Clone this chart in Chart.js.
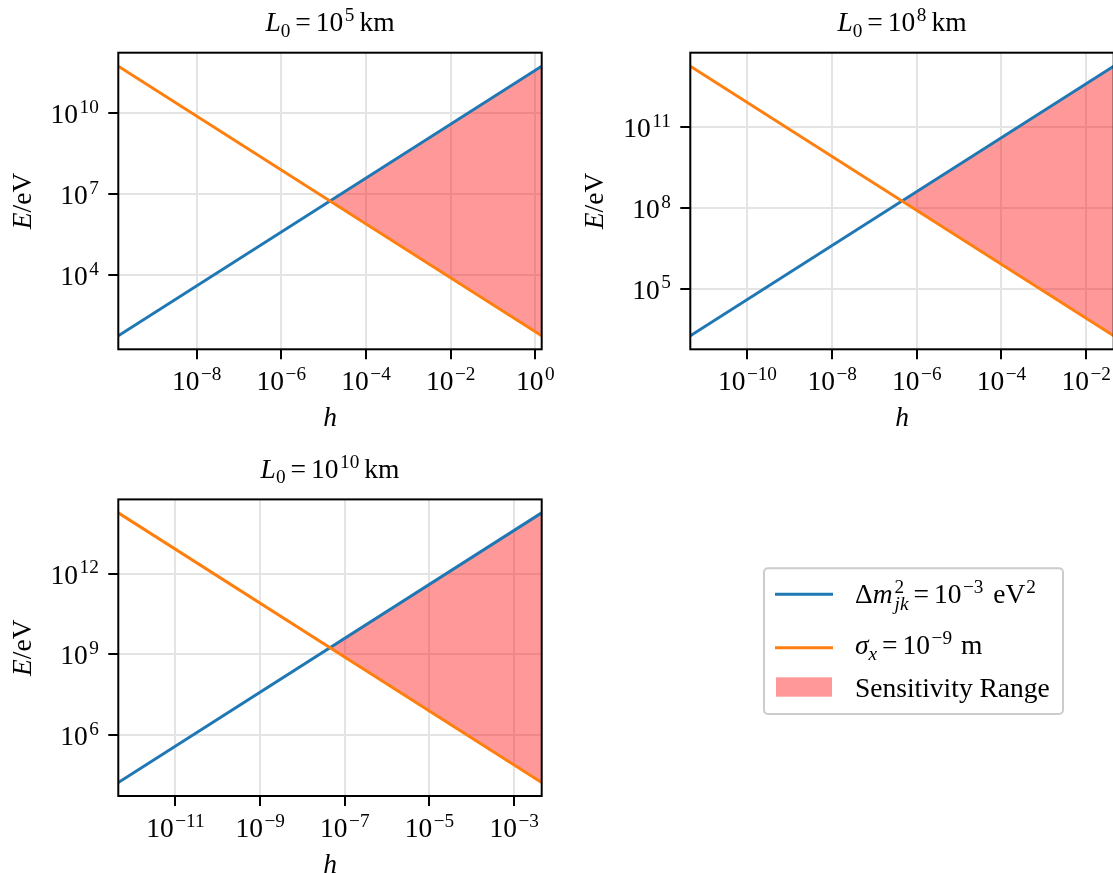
<!DOCTYPE html>
<html>
<head>
<meta charset="utf-8">
<script src="https://cdn.jsdelivr.net/npm/chart.js@4.4.1/dist/chart.umd.min.js"></script>
<style>
html,body{margin:0;padding:0;background:#fff;overflow:hidden;width:1113px;height:873px}
canvas{position:absolute;left:0;top:0}
</style>
</head>
<body>
<canvas id="p1" width="1200" height="873"></canvas>
<canvas id="p2" width="1200" height="873"></canvas>
<canvas id="p3" width="1200" height="873"></canvas>
<script>
// L0 = 1e5 km
const h1 = [1.41e-10, 1.41];
const dm1 = [56.2, 5.62e11];      // delta m^2 curve (blue)
const sig1 = [5.62e11, 56.2];     // sigma_x curve (orange)
const xTicks1 = [1e-8, 1e-6, 1e-4, 1e-2, 1e0];
const yTicks1 = [1e4, 1e7, 1e10];

// L0 = 1e8 km
const h2 = [4.47e-12, 4.47e-2];
const dm2 = [1.78e3, 1.78e13];
const sig2 = [1.78e13, 1.78e3];
const xTicks2 = [1e-10, 1e-8, 1e-6, 1e-4, 1e-2];
const yTicks2 = [1e5, 1e8, 1e11];

// L0 = 1e10 km
const h3 = [4.47e-13, 4.47e-3];
const dm3 = [1.78e4, 1.78e14];
const sig3 = [1.78e14, 1.78e4];
const xTicks3 = [1e-11, 1e-9, 1e-7, 1e-5, 1e-3];
const yTicks3 = [1e6, 1e9, 1e12];

const FONT = '"Liberation Serif","Times New Roman",serif';
const F = 27.5;
const BLUE = "#1f77b4", ORANGE = "#ff7f0e", FILL = "rgba(255,0,0,0.4)", GRID = "#e4e4e4";

function fnt(s){ return (s.it ? "italic " : "") + (s.sz || F) + "px " + FONT; }

// draws a row of text pieces (super/subscripts etc.)
function rich(ctx, segs, x, y, align){
  let w = 0;
  segs.forEach(s=>{
    if(s.gap !== undefined) s.w = s.gap;
    else if(s.stack){
      s.w = Math.max(...s.stack.map(q=>{ ctx.font = fnt(q); return ctx.measureText(q.t).width; }));
    } else { ctx.font = fnt(s); s.w = ctx.measureText(s.t).width; }
    w += s.w;
  });
  let cx = align==="center" ? x - w/2 : align==="right" ? x - w : x;
  ctx.textAlign = "left"; ctx.textBaseline = "alphabetic"; ctx.fillStyle = "#000";
  segs.forEach(s=>{
    if(s.stack) s.stack.forEach(q=>{ ctx.font = fnt(q); ctx.fillText(q.t, cx, y + (q.dy||0)); });
    else if(s.t){ ctx.font = fnt(s); ctx.fillText(s.t, cx, y + (s.dy||0)); }
    cx += s.w;
  });
}
const N = t=>({t});
const I = t=>({t, it:true});
const G = g=>({gap:g});
const SUP = (t,it)=>({t, it, sz:F*0.7, dy:-F*0.37});
const SUB = (t,it,d)=>({t, it, sz:F*0.7, dy:d||F*0.2});

function pow10(v){
  const e = Math.round(Math.log10(v));
  return [N("10"), G(1.5), SUP(String(e).replace("-", "\u2212"))];
}

function drawLegend(ctx){
  ctx.save();
  ctx.beginPath();
  ctx.roundRect(764, 568.3, 299, 145.7, 4);
  ctx.fillStyle = "rgba(255,255,255,0.8)";
  ctx.fill();
  ctx.strokeStyle = "#cccccc"; ctx.lineWidth = 2;
  ctx.stroke();
  ctx.lineWidth = 3;
  ctx.strokeStyle = BLUE;
  ctx.beginPath(); ctx.moveTo(775, 594.3); ctx.lineTo(833, 594.3); ctx.stroke();
  ctx.strokeStyle = ORANGE;
  ctx.beginPath(); ctx.moveTo(775, 647.7); ctx.lineTo(833, 647.7); ctx.stroke();
  ctx.fillStyle = FILL;
  ctx.fillRect(776, 677.3, 56, 19.4);
  rich(ctx, [N("\u0394"), I("m"), G(2), {stack:[SUP("2"), SUB("jk", true, F*0.27)]}, G(5), N("="), G(5),
             N("10"), G(1.5), SUP("\u22123"), G(3), N(" eV"), G(1), SUP("2")], 855, 603, "left");
  rich(ctx, [I("\u03c3"), SUB("x", true), G(5), N("="), G(5), N("10"), G(1.5), SUP("\u22129"), G(2), N(" m")], 855, 654, "left");
  rich(ctx, [N("Sensitivity Range")], 855, 697, "left");
  ctx.restore();
}

function panel(id, hs, dm, sig, xt, yt, box, l0exp, legend){
  const lo = Math.log10(Math.min(...dm, ...sig)), hi = Math.log10(Math.max(...dm, ...sig));
  const m = (hi - lo) * 0.05;
  const gridOpts = {color:GRID, lineWidth:2, tickLength:10, tickColor:"#000", tickWidth:2};
  new Chart(document.getElementById(id), {
    type: "line",
    data: {datasets: [
      {label:"dm", data: hs.map((x,i)=>({x, y:dm[i]})), borderColor:BLUE, borderWidth:3, pointRadius:0, order:1,
       fill:{target:1, above:FILL, below:"rgba(0,0,0,0)"}},
      {label:"sig", data: hs.map((x,i)=>({x, y:sig[i]})), borderColor:ORANGE, borderWidth:3, pointRadius:0, order:0, fill:false}
    ]},
    options: {
      responsive:false, animation:false, events:[],
      layout:{padding:{left:box.l, top:box.t, right:1200-box.r, bottom:873-box.b}},
      plugins:{legend:{display:false}, tooltip:{enabled:false}},
      scales:{
        x:{type:"logarithmic", min:hs[0], max:hs[hs.length-1],
           afterBuildTicks:s=>{ s.ticks = xt.map(v=>({value:v})); },
           afterFit:s=>{ s.height = 0; },
           ticks:{display:false}, grid:gridOpts, border:{display:false}},
        y:{type:"logarithmic", min:Math.pow(10, lo-m), max:Math.pow(10, hi+m),
           afterBuildTicks:s=>{ s.ticks = yt.map(v=>({value:v})); },
           afterFit:s=>{ s.width = 0; },
           ticks:{display:false}, grid:gridOpts, border:{display:false}}
      }
    },
    plugins:[{
      id:"deco",
      afterDraw(chart){
        const ctx = chart.ctx, a = chart.chartArea;
        ctx.save();
        ctx.strokeStyle = "#000"; ctx.lineWidth = 2;
        ctx.strokeRect(a.left, a.top, a.right - a.left, a.bottom - a.top);
        xt.forEach(v=>rich(ctx, pow10(v), chart.scales.x.getPixelForValue(v), a.bottom + 41, "center"));
        yt.forEach(v=>rich(ctx, pow10(v), a.left - 19.5, chart.scales.y.getPixelForValue(v) + 10, "right"));
        const cx = (a.left + a.right)/2, cy = (a.top + a.bottom)/2;
        rich(ctx, [I("h")], cx, a.bottom + 77, "center");
        rich(ctx, [I("L"), SUB("0"), G(5), N("="), G(5), N("10"), G(1.5), SUP(l0exp), G(5), N("km")], cx, a.top - 21.5, "center");
        ctx.translate(a.left - 87, cy);
        ctx.rotate(-Math.PI/2);
        rich(ctx, [I("E"), N("/eV")], 0, 0, "center");
        ctx.restore();
        if(legend) drawLegend(ctx);
      }
    }]
  });
}

panel("p1", h1, dm1, sig1, xTicks1, yTicks1, {l:118.3, t:52.7, r:541.7, b:349.3}, "5", false);
panel("p2", h2, dm2, sig2, xTicks2, yTicks2, {l:690.3, t:52.7, r:1113.7, b:349.3}, "8", false);
panel("p3", h3, dm3, sig3, xTicks3, yTicks3, {l:118.3, t:499.4, r:541.7, b:796}, "10", true);
</script>
</body>
</html>
